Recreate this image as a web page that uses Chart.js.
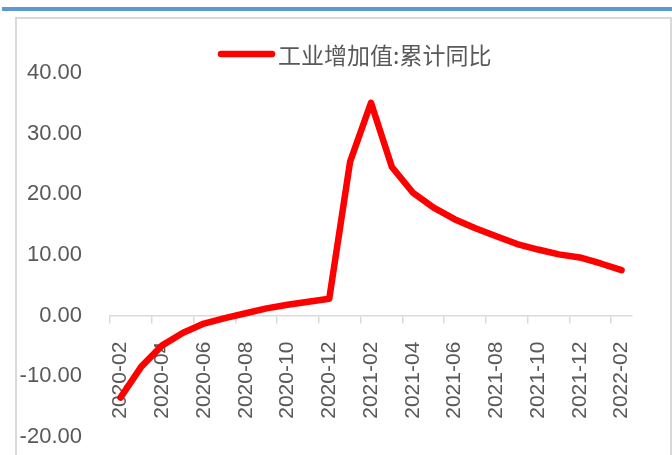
<!DOCTYPE html>
<html>
<head>
<meta charset="utf-8">
<script src="https://cdn.jsdelivr.net/npm/chart.js@4"></script>
<style>
  body { margin: 0; background: #fff; }
  #wrap { position: relative; width: 672px; height: 455px; overflow: hidden; }
  #topbar { position: absolute; left: 2px; top: 7px; width: 670px; height: 4px; background: #5B9BD5; }
  #frame { position: absolute; left: 15px; top: 17px; width: 653px; height: 470px; border: 2px solid #D9D9D9; }
  #chart { position: absolute; left: 0; top: 0; }
</style>
</head>
<body>
<div id="wrap">
  <div id="topbar"></div>
  <div id="frame"></div>
  <canvas id="chart" width="672" height="455"></canvas>
</div>
<script>
// data
const months = [
  "2020-02", "2020-03", "2020-04", "2020-05", "2020-06", "2020-07", "2020-08",
  "2020-09", "2020-10", "2020-11", "2020-12", "2021-01", "2021-02", "2021-03",
  "2021-04", "2021-05", "2021-06", "2021-07", "2021-08", "2021-09", "2021-10",
  "2021-11", "2021-12", "2022-01", "2022-02"
];
const growth = [
  -13.5, -8.4, -4.9, -2.8, -1.3, -0.4, 0.4, 1.2, 1.8, 2.3, 2.8, 25.4, 35.1,
  24.5, 20.3, 17.8, 15.9, 14.4, 13.1, 11.8, 10.9, 10.1, 9.6, 8.6, 7.5
];
const seriesName = "工业增加值:累计同比";
const yMin = -20, yMax = 40, yStep = 10;

const textColor = "#595959";
const axisColor = "#D9D9D9";

// legend drawn at a fixed spot, like the excel one
const legendPlugin = {
  id: "fixedLegend",
  afterDraw(chart) {
    const ds = chart.data.datasets[0];
    const c = chart.ctx;
    c.save();
    c.strokeStyle = ds.borderColor;
    c.lineWidth = 6.5;
    c.lineCap = "round";
    c.beginPath();
    c.moveTo(221, 54);
    c.lineTo(272, 54);
    c.stroke();
    c.fillStyle = textColor;
    c.font = "23px 'Noto Sans CJK SC'";
    c.textBaseline = "middle";
    c.fillText(ds.label, 278, 55);
    c.restore();
  }
};

new Chart(document.getElementById("chart").getContext("2d"), {
  type: "line",
  data: {
    labels: months,
    datasets: [{
      label: seriesName,
      data: growth,
      borderColor: "#FF0000",
      backgroundColor: "#FF0000",
      borderWidth: 6.5,
      borderJoinStyle: "round",
      borderCapStyle: "round",
      pointRadius: 0,
      tension: 0
    }]
  },
  options: {
    responsive: false,
    animation: false,
    layout: { padding: { left: 0, right: 40, top: 73, bottom: 18 } },
    plugins: {
      legend: { display: false },
      tooltip: { enabled: false }
    },
    scales: {
      x: {
        type: "category",
        position: { y: 0 },
        offset: true,
        afterFit: (scale) => { scale.height = 0; },
        grid: {
          offset: true,
          drawOnChartArea: false,
          drawTicks: true,
          tickLength: 7,
          lineWidth: 1.5,
          color: (ctx) => (ctx.index !== undefined && ctx.index % 2 === 0) ? axisColor : "rgba(0,0,0,0)"
        },
        border: { color: axisColor, width: 1.5 },
        ticks: {
          autoSkip: false,
          maxRotation: 90,
          minRotation: 90,
          padding: 19,
          color: textColor,
          font: { family: "'Liberation Sans', Arial", size: 21 },
          callback: (v, i) => i % 2 === 0 ? months[i] : ""
        }
      },
      y: {
        min: yMin,
        max: yMax,
        // invisible tick marks keep the labels away from the plot
        grid: { drawOnChartArea: false, drawTicks: true, tickLength: 28, color: "rgba(0,0,0,0)" },
        border: { display: false },
        afterFit: (scale) => { scale.width = 110; },
        ticks: {
          stepSize: yStep,
          padding: 0,
          color: textColor,
          font: { family: "'Liberation Sans', Arial", size: 22 },
          callback: (v) => v.toFixed(2)
        }
      }
    }
  },
  plugins: [legendPlugin]
});
</script>
</body>
</html>
